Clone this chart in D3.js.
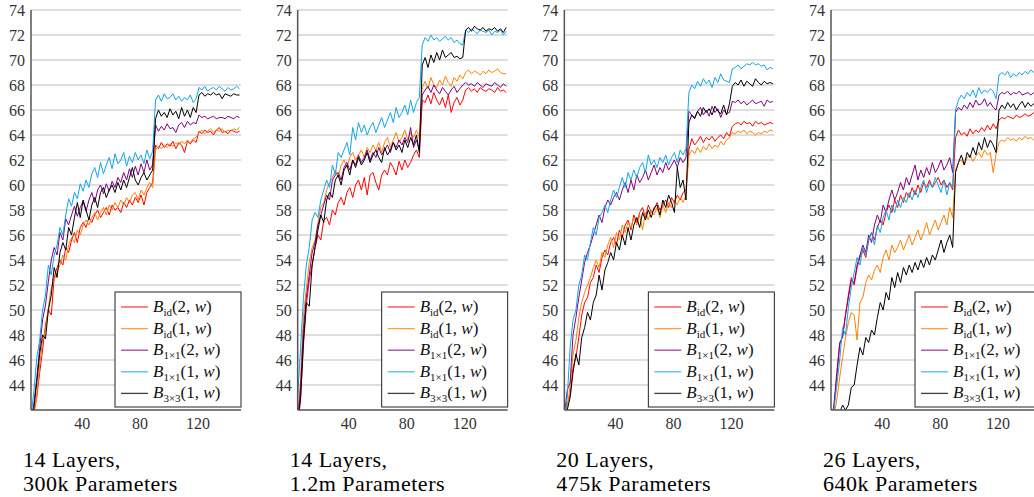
<!DOCTYPE html>
<html>
<head>
<meta charset="utf-8">
<script src="https://cdnjs.cloudflare.com/ajax/libs/d3/7.8.5/d3.min.js"></script>
<style>
  body { margin: 0; background: #fff; }
  svg { display: block; }
</style>
</head>
<body>
<svg id="chart" width="1034" height="497"></svg>
<script>
// epochs (x values shared by every curve)
var epochs = [5,7,9,11,13,15,17,19,21,23,25,27,29,31,33,35,37,39,41,43,45,47,49,51,53,55,57,59,61,63,65,67,69,71,73,75,77,79,81,83,85,87,89,
  91,93,95,97,99,101,103,105,107,109,111,113,115,117,119,
  121,123,125,127,129,131,133,135,137,139,141,143,145,147,149];

var yTicks = [44,46,48,50,52,54,56,58,60,62,64,66,68,70,72,74];
var xTicks = [40,80,120];

var seriesNames = [
  {base: "id", args: "2"},
  {base: "id", args: "1"},
  {base: "1\u00d71", args: "2"},
  {base: "1\u00d71", args: "1"},
  {base: "3\u00d73", args: "1"}
];
var seriesColors = ["#ff0000", "#ff8000", "#800080", "#10a5e8", "#000000"];

// ---- 14 layers, 300k
var p1_id2 = [40.8,41.8,43.0,45.0,46.8,48.8,50.0,49.6,52.6,53.4,54.0,53.6,55.0,54.6,55.6,56.2,55.4,56.6,57.0,56.6,57.4,57.0,57.6,58.0,57.4,57.8,58.2,57.6,58.4,58.0,58.2,57.8,58.6,58.2,58.8,58.4,59.0,58.6,59.2,58.4,59.4,59.8,60.2,
  63.2,62.9,63.4,63.0,63.3,63.1,63.5,62.9,63.4,63.2,62.6,63.5,63.3,63.6,63.4,
  64.3,64.1,64.4,64.2,64.3,64.0,64.4,64.6,64.2,64.3,64.1,64.4,64.3,64.2,64.3];
var p1_id1 = [40.6,41.6,43.2,45.6,47.6,48.4,50.2,51.8,52.4,53.0,53.6,54.4,54.0,55.2,55.8,55.4,56.4,56.0,56.8,57.2,56.8,57.4,57.8,57.2,57.8,58.2,57.6,58.4,58.0,58.6,58.2,58.8,58.4,59.0,58.6,59.2,59.4,58.8,59.6,59.2,59.8,60.2,59.8,
  62.8,63.1,62.9,63.2,63.0,63.3,63.1,63.4,63.2,63.5,63.3,63.6,63.4,63.7,63.8,
  64.2,64.4,64.1,64.3,64.5,64.2,64.4,64.3,64.5,64.2,64.4,64.3,64.5,64.4,64.6];
var p1_c2 = [41.2,42.5,44.6,47.0,49.2,50.4,52.3,54.0,55.0,54.4,56.2,55.6,57.3,56.8,57.6,58.3,57.5,58.2,58.7,57.9,58.8,59.4,58.6,59.6,60.0,59.3,60.1,59.5,60.3,59.8,60.6,60.2,61.0,60.4,61.3,60.6,61.5,60.8,61.7,61.0,62.0,61.2,61.6,
  64.8,64.3,64.7,64.4,64.9,64.5,64.6,64.2,64.8,65.0,64.6,65.1,64.8,65.0,64.9,
  65.6,65.4,65.5,65.3,65.4,65.5,65.3,65.4,65.4,65.3,65.5,65.4,65.3,65.5,65.4];
var p1_c1 = [41.5,43.5,46.2,47.6,50.0,51.2,53.6,52.8,54.4,55.2,56.6,56.0,57.6,58.9,58.3,59.4,58.9,60.1,59.5,60.4,59.8,60.9,61.4,60.6,61.8,60.9,61.6,62.2,61.3,62.5,61.7,62.0,62.6,61.5,62.3,61.8,62.6,62.0,62.4,61.7,62.8,62.1,62.7,
  66.8,67.2,66.7,67.3,66.9,67.0,67.3,66.8,67.1,66.7,67.0,66.8,67.2,66.6,66.9,
  67.8,67.6,67.9,67.5,67.7,67.8,67.6,67.9,67.7,67.5,67.8,67.6,67.7,67.9,67.7];
var p1_c3 = [41.0,42.2,44.2,46.5,48.0,47.7,50.0,51.2,53.4,52.6,54.6,55.4,54.8,56.6,56.0,57.4,58.6,57.4,58.8,58.0,57.2,58.4,59.0,58.2,59.4,59.8,59.0,59.6,60.0,59.4,60.2,59.6,60.4,59.8,60.6,61.4,60.4,60.0,60.6,61.0,60.4,60.8,61.2,
  65.3,66.0,65.5,65.8,65.4,66.1,65.6,65.9,65.3,66.2,65.5,66.0,65.4,66.2,65.8,
  67.2,67.4,67.1,67.3,67.2,67.4,67.2,67.3,66.9,67.3,67.2,67.1,67.3,67.2,67.2];

// ---- 14 layers, 1.2m
var p2_id2 = [40.8,42.8,47.2,50.4,52.4,53.6,55.0,56.0,55.6,57.2,57.4,56.8,58.0,57.6,58.6,59.0,58.4,59.4,59.8,59.0,60.0,60.4,59.6,60.6,59.2,60.8,61.0,60.2,59.6,60.8,61.2,60.8,61.8,61.4,60.8,61.9,61.2,62.0,61.4,61.8,62.4,62.8,62.2,
  66.8,66.6,67.2,66.5,67.4,66.8,66.4,67.0,66.2,67.2,65.8,66.6,67.0,66.4,66.8,
  67.6,67.8,67.5,67.7,67.4,67.8,67.6,67.5,67.7,67.6,67.4,67.8,67.5,67.6,67.4];
var p2_id1 = [41.2,44.5,49.5,51.8,53.8,55.0,55.6,57.0,58.2,58.6,59.6,60.2,60.6,61.2,60.6,61.6,62.0,61.4,62.2,62.6,62.0,62.4,62.8,62.2,63.0,62.6,63.2,62.8,63.4,62.6,63.4,63.8,63.0,63.6,64.2,63.4,63.8,64.4,63.6,64.2,63.8,64.4,63.8,
  67.8,68.3,67.7,68.6,68.0,67.8,68.4,68.0,68.7,68.2,67.9,68.6,68.3,68.8,68.5,
  69.0,69.2,68.9,69.1,69.0,68.8,69.1,68.9,69.2,69.0,69.1,69.3,69.0,68.9,68.9];
var p2_c2 = [41.0,43.8,48.5,51.0,52.8,54.6,55.4,56.8,57.6,58.4,59.2,58.8,60.4,60.8,61.0,60.4,61.4,61.8,61.2,62.0,61.6,62.4,61.8,62.2,62.8,62.0,62.6,62.2,63.0,62.4,62.8,63.2,62.6,63.4,63.0,63.6,63.2,63.8,63.4,64.6,63.0,63.6,62.8,
  67.2,67.6,67.9,67.4,68.0,67.6,67.3,67.8,67.5,67.2,67.6,67.9,67.4,67.7,68.0,
  68.2,68.0,68.1,67.9,68.2,68.0,67.8,68.1,68.0,67.9,68.2,68.0,67.8,68.1,67.9];
var p2_c1 = [43.0,47.0,51.0,53.6,55.0,57.2,57.8,57.4,58.8,59.6,60.4,59.8,61.6,60.8,62.6,62.2,62.8,63.4,62.4,64.6,63.6,65.0,64.2,64.8,64.0,64.6,65.0,64.2,64.8,65.4,64.6,65.2,65.8,65.0,66.2,65.4,65.8,66.4,65.6,66.8,65.8,66.6,67.0,
  71.2,71.8,71.5,72.0,71.6,71.8,71.5,71.7,71.9,71.6,71.8,71.4,71.6,71.3,71.2,
  72.4,72.2,72.5,72.3,72.1,72.4,72.3,72.2,72.4,72.0,72.3,72.2,72.4,72.0,72.3];
var p2_c3 = [41.0,43.0,47.5,50.6,50.3,53.6,55.0,56.4,57.6,57.0,58.8,59.4,59.0,60.4,60.8,60.0,61.2,61.6,60.8,62.0,61.4,62.2,61.6,62.0,62.6,61.8,62.4,62.8,62.2,61.8,63.0,62.4,62.8,63.4,62.8,63.2,62.6,63.6,63.0,63.8,63.2,64.0,62.6,
  69.6,70.2,69.4,70.4,69.8,70.6,70.0,70.8,70.2,70.4,70.6,70.2,70.3,70.1,70.2,
  72.4,72.6,72.3,72.7,72.5,72.4,72.6,72.3,72.5,72.4,72.6,72.3,72.5,72.2,72.6];

// ---- 20 layers, 475k
var p3_id2 = [40.6,42.4,43.2,45.4,46.2,47.8,49.6,50.6,51.0,52.2,52.6,53.6,53.0,54.2,54.8,54.4,55.4,55.8,55.2,56.4,55.8,56.8,57.2,56.4,57.6,57.0,57.8,58.2,57.4,58.4,57.8,58.0,58.6,58.0,58.4,58.8,58.2,59.0,58.6,59.2,58.8,59.4,59.6,
  62.8,63.7,63.2,63.5,63.9,63.4,63.8,63.6,63.9,63.5,63.8,64.0,63.7,64.2,63.9,
  64.7,64.9,65.0,64.8,65.1,64.9,65.0,64.7,65.1,64.9,65.0,64.8,64.9,65.0,64.9];
var p3_id1 = [40.4,42.0,44.0,46.4,47.6,49.4,50.6,51.4,52.0,52.6,53.4,54.0,53.4,54.6,54.2,55.2,55.8,55.0,56.2,55.6,56.8,56.2,57.0,56.6,57.4,56.8,57.6,56.4,57.8,57.2,58.0,57.6,58.2,57.4,58.4,57.8,58.6,58.2,58.8,58.4,59.0,58.6,59.2,
  62.4,62.8,62.5,63.0,62.6,63.1,62.8,63.3,62.9,63.2,63.0,63.5,63.2,63.6,63.8,
  64.2,64.1,64.3,64.2,64.4,64.1,64.3,64.2,64.0,64.2,64.1,64.3,64.2,64.4,64.3];
var p3_c2 = [41.5,43.6,44.2,48.0,49.4,51.0,52.4,53.8,54.6,55.2,56.0,56.8,57.6,57.0,58.2,58.8,58.4,59.0,59.4,58.8,59.6,60.2,59.4,60.4,59.6,60.8,60.2,60.6,61.2,60.4,61.0,61.6,60.8,61.4,61.0,61.8,61.2,61.6,62.0,61.4,62.2,61.8,62.2,
  65.9,65.6,65.4,65.9,66.2,65.6,66.0,65.5,66.3,65.8,66.1,65.4,66.0,65.7,65.8,
  66.7,66.6,66.8,66.5,66.7,66.4,66.6,66.8,66.5,66.6,66.7,66.3,66.8,66.6,66.7];
var p3_c1 = [41.0,43.0,47.0,49.2,50.0,52.0,52.8,54.4,54.0,55.4,56.6,56.0,57.4,57.8,58.4,57.8,58.8,59.6,59.0,59.8,60.6,59.8,61.0,60.4,61.2,60.6,61.4,61.8,61.0,62.4,61.6,62.0,61.4,62.2,61.8,62.4,61.6,62.2,62.6,61.8,62.8,62.4,62.9,
  67.4,68.0,67.7,68.3,67.9,68.5,68.1,68.4,67.8,68.6,68.2,68.9,68.4,68.3,68.2,
  69.3,69.4,69.6,69.3,69.5,69.7,69.6,69.8,69.6,69.7,69.5,69.6,69.2,69.4,69.3];
var p3_c3 = [40.8,42.0,43.0,45.0,46.5,45.6,47.8,48.6,49.8,49.2,50.6,51.2,52.8,51.6,53.2,53.8,54.6,54.0,55.4,54.8,56.0,55.2,56.6,55.6,56.8,57.4,56.6,57.8,57.2,58.0,57.4,58.2,58.4,57.6,58.8,58.2,59.2,58.6,57.8,61.4,59.8,60.4,58.8,
  65.0,65.6,65.3,65.9,65.5,66.2,65.8,66.1,65.6,66.3,65.9,65.7,66.4,65.6,66.5,
  67.9,68.2,68.0,68.4,67.9,68.3,68.1,67.9,68.5,68.2,68.0,68.3,68.1,68.2,68.1];

// ---- 26 layers, 640k
var p4_id2 = [40.8,42.2,44.6,47.2,48.0,49.6,51.2,52.6,52.0,53.4,54.2,54.8,54.2,55.6,56.2,55.6,56.6,57.2,56.8,57.8,58.4,57.8,58.8,58.2,59.2,58.6,59.4,59.0,59.8,59.2,60.0,59.4,60.2,59.8,60.4,59.8,60.2,60.6,60.0,60.4,59.8,60.2,59.6,
  63.8,64.4,64.0,64.2,63.9,64.5,64.1,64.4,64.2,64.6,64.3,64.8,64.4,64.9,64.5,
  65.2,65.4,65.3,65.5,65.4,65.3,65.6,65.4,65.5,65.7,65.5,65.6,65.8,65.6,65.7];
var p4_id1 = [40.5,41.5,42.8,44.6,46.2,47.8,49.0,49.8,49.6,47.6,50.6,51.0,52.2,52.8,52.4,53.2,53.6,53.0,54.2,54.8,54.0,55.2,54.6,55.0,55.6,54.8,55.4,56.0,55.2,55.8,56.4,55.6,56.2,57.0,56.0,56.6,57.2,56.4,57.0,57.6,56.8,58.2,57.4,
  61.2,61.8,62.0,61.6,62.2,62.4,61.9,62.3,62.6,62.2,62.8,62.4,62.6,61.0,62.5,
  63.4,63.6,63.5,63.8,63.6,63.7,63.5,63.8,63.6,63.9,63.7,63.8,63.6,63.8,63.4];
var p4_c2 = [41.0,42.4,45.0,47.4,47.8,49.6,51.0,52.4,52.2,53.6,54.4,55.2,54.6,56.0,55.4,56.8,57.6,57.0,58.4,57.8,58.8,59.6,58.8,59.4,60.2,59.6,60.6,60.0,60.8,61.6,60.4,61.2,60.6,61.4,60.8,61.8,61.0,61.4,62.0,61.2,61.6,62.2,61.0,
  65.8,66.2,66.0,66.4,66.1,66.6,66.2,66.8,66.4,66.5,66.9,66.3,66.6,66.2,66.0,
  67.2,67.4,67.3,67.5,67.2,67.4,67.3,67.5,67.2,67.3,67.4,67.2,67.4,67.3,67.2];
var p4_c1 = [40.8,42.0,44.0,46.0,48.6,48.0,50.2,51.8,53.0,54.2,53.6,55.0,54.4,55.6,56.2,55.2,56.8,56.2,57.4,58.0,57.2,58.4,57.8,58.8,58.2,59.0,58.6,59.4,58.8,59.6,59.0,59.8,60.4,59.4,60.2,59.8,60.6,60.0,59.4,60.4,59.2,60.2,59.8,
  66.0,66.8,67.2,66.9,67.4,67.1,67.6,67.0,67.8,67.3,67.6,67.4,67.7,67.5,66.9,
  68.8,69.0,68.8,69.1,68.6,68.9,68.7,69.0,68.8,69.1,68.9,69.2,69.0,69.1,69.3];
var p4_c3 = [40.0,40.5,41.0,41.8,42.4,42.0,42.4,43.8,44.0,45.6,47.0,46.4,47.8,47.4,48.4,48.0,49.4,50.6,50.0,51.4,50.8,52.6,51.8,53.0,52.2,53.4,52.8,53.6,53.0,53.8,53.2,54.0,53.4,54.2,53.6,54.4,54.0,54.8,55.6,54.6,55.4,56.0,55.0,
  61.0,61.8,62.4,61.6,62.6,62.2,63.0,62.4,63.4,62.8,63.8,63.0,63.6,63.2,62.6,
  66.0,66.4,66.1,66.6,66.2,66.5,66.0,66.4,66.7,66.2,66.6,66.3,66.5,66.2,65.9];

var panels = [
  {caption: ["14 Layers,", "300k Parameters"], series: [p1_id2, p1_id1, p1_c2, p1_c1, p1_c3]},
  {caption: ["14 Layers,", "1.2m Parameters"], series: [p2_id2, p2_id1, p2_c2, p2_c1, p2_c3]},
  {caption: ["20 Layers,", "475k Parameters"], series: [p3_id2, p3_id1, p3_c2, p3_c1, p3_c3]},
  {caption: ["26 Layers,", "640k Parameters"], series: [p4_id2, p4_id1, p4_c2, p4_c1, p4_c3]}
];

var svg = d3.select("#chart");
var font = "'Liberation Serif'";

var plotW = 210, plotTop = 10, plotBottom = 410;
var panelStep = 266.67, firstLeft = 31;

var x = d3.scaleLinear().domain([5, 150]).range([0, plotW]);
var y = d3.scaleLinear().domain([42, 74]).range([plotBottom, plotTop]);

var line = d3.line()
    .x(function(d, i) { return x(epochs[i]); })
    .y(function(d) { return y(d); });

panels.forEach(function(p, pi) {
  var g = svg.append("g")
      .attr("transform", "translate(" + (firstLeft + pi * panelStep) + ",0)");

  g.append("clipPath").attr("id", "clip" + pi)
    .append("rect")
      .attr("x", 0).attr("y", plotTop)
      .attr("width", plotW).attr("height", plotBottom - plotTop);

  // horizontal grid
  g.append("g").selectAll("line")
    .data(yTicks)
    .enter().append("line")
      .attr("x1", 0).attr("x2", plotW)
      .attr("y1", function(d) { return y(d); })
      .attr("y2", function(d) { return y(d); })
      .style("stroke", "#bdbdbd")
      .style("stroke-width", 1);

  // y labels
  var ya = g.append("g")
      .call(d3.axisLeft(y).tickValues(yTicks).tickSize(0).tickPadding(6));
  ya.select(".domain").remove();
  ya.selectAll("text")
      .style("font-family", font)
      .style("font-size", "16px")
      .style("fill", "#333");

  // x labels
  var xa = g.append("g")
      .attr("transform", "translate(0," + plotBottom + ")")
      .call(d3.axisBottom(x).tickValues(xTicks).tickSize(0).tickPadding(8));
  xa.select(".domain").remove();
  xa.selectAll("text")
      .style("font-family", font)
      .style("font-size", "16px")
      .style("fill", "#333");

  // curves
  g.append("g").attr("clip-path", "url(#clip" + pi + ")")
    .selectAll("path")
    .data(p.series)
    .enter().append("path")
      .attr("d", line)
      .style("fill", "none")
      .style("stroke", function(d, i) { return seriesColors[i]; })
      .style("stroke-width", 1);

  // axis lines (left + bottom)
  g.append("line")
      .attr("x1", 0).attr("x2", 0)
      .attr("y1", plotTop).attr("y2", plotBottom)
      .style("stroke", "#555").style("stroke-width", 1.5);
  g.append("line")
      .attr("x1", 0).attr("x2", plotW)
      .attr("y1", plotBottom).attr("y2", plotBottom)
      .style("stroke", "#555").style("stroke-width", 1.5);

  // legend
  var lg = g.append("g")
      .attr("transform", "translate(" + (plotW - 126) + ",292)");
  lg.append("rect")
      .attr("width", 126).attr("height", 115)
      .style("fill", "#fff")
      .style("stroke", "#222")
      .style("stroke-width", 1);

  var item = lg.selectAll(".item")
      .data(seriesNames)
      .enter().append("g")
      .attr("class", "item")
      .attr("transform", function(d, i) { return "translate(0," + (15 + i * 21.6) + ")"; });

  item.append("line")
      .attr("x1", 6).attr("x2", 33)
      .style("stroke", function(d, i) { return seriesColors[i]; })
      .style("stroke-opacity", 0.75)
      .style("stroke-width", 1.3);

  var t = item.append("text")
      .attr("x", 38).attr("y", 5)
      .style("font-family", font)
      .style("font-size", "17px")
      .style("fill", "#111");
  t.append("tspan").style("font-style", "italic").text("B");
  t.append("tspan").attr("dy", 4).style("font-size", "11px").text(function(d) { return d.base; });
  t.append("tspan").attr("dy", -4).text(function(d) { return "(" + d.args + ", "; });
  t.append("tspan").style("font-style", "italic").text("w");
  t.append("tspan").text(")");

  // caption
  g.append("g").selectAll("text")
    .data(p.caption)
    .enter().append("text")
      .attr("x", -8)
      .attr("y", function(d, i) { return 467 + i * 23.5; })
      .style("font-family", font)
      .style("font-size", "22px")
      .style("letter-spacing", "0.5px")
      .style("fill", "#000")
      .text(function(d) { return d; });
});
</script>
</body>
</html>
